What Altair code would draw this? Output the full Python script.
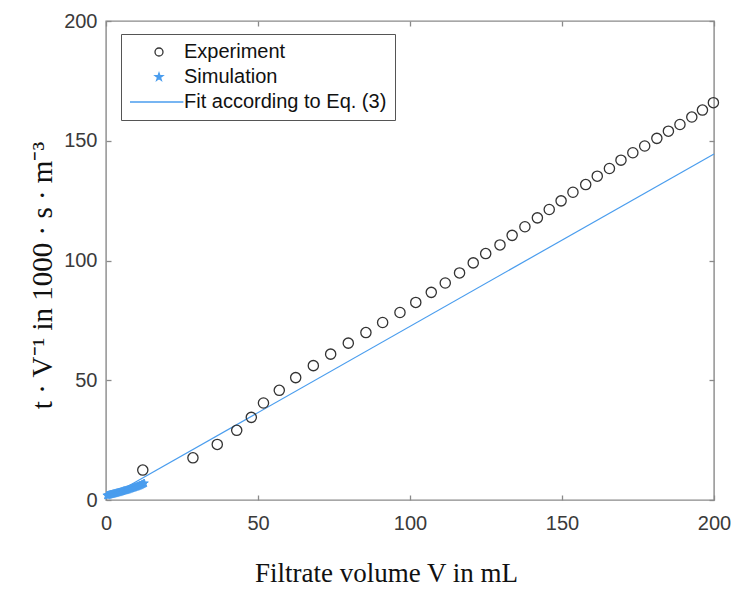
import altair as alt
import pandas as pd

# ---- data ----
exp_x = [12.1, 28.6, 36.6, 43.0, 47.8, 51.8, 57.0, 62.4, 68.2, 73.9, 79.7, 85.5, 91.0,
         96.7, 101.9, 107.0, 111.6, 116.3, 120.8, 124.9, 129.6, 133.6, 137.8, 141.9,
         145.8, 149.7, 153.6, 157.8, 161.6, 165.6, 169.4, 173.3, 177.2, 181.2, 185.0,
         188.8, 192.7, 196.2, 199.8]
exp_y = [12.5, 17.6, 23.2, 29.1, 34.5, 40.5, 45.8, 51.1, 56.1, 60.9, 65.5, 69.9, 74.1,
         78.3, 82.5, 86.7, 90.6, 94.8, 99.0, 102.9, 106.5, 110.5, 114.1, 117.8,
         121.3, 124.9, 128.5, 131.7, 135.2, 138.4, 141.9, 145.0, 147.8, 151.0, 154.0,
         156.8, 159.9, 162.8, 165.9]

sim_x = [0.3, 0.6, 0.9, 1.2, 1.5, 1.8, 2.1, 2.4, 2.7, 3.0, 3.3, 3.6, 3.9, 4.2, 4.5,
         4.8, 5.1, 5.4, 5.7, 6.0, 6.3, 6.6, 6.9, 7.2, 7.5, 7.8, 8.1, 8.4, 8.7, 9.0,
         9.3, 9.6, 9.9, 10.2, 10.5, 10.8, 11.1, 11.4, 11.7, 12.0, 12.3, 12.6]
sim_y = [1.9, 2.0, 2.1, 2.2, 2.3, 2.4, 2.5, 2.6, 2.7, 2.8, 2.9, 3.0, 3.1, 3.2, 3.3,
         3.4, 3.5, 3.6, 3.8, 3.9, 4.0, 4.1, 4.2, 4.3, 4.5, 4.6, 4.7, 4.8, 5.0, 5.1,
         5.2, 5.4, 5.5, 5.6, 5.8, 5.9, 6.1, 6.2, 6.4, 6.6, 6.8, 7.0]

fit_x = [0, 200]
fit_y = [0.5, 144.5]

series = ["Experiment", "Simulation", "Fit according to Eq. (3)"]
tick_values = [0, 50, 100, 150, 200]

exp_df = pd.DataFrame({"x": exp_x, "y": exp_y, "series": series[0]})
sim_df = pd.DataFrame({"x": sim_x, "y": sim_y, "series": series[1]})
fit_df = pd.DataFrame({"x": fit_x, "y": fit_y, "series": series[2]})

BLUE = "#4A9DEE"
GRAY = "#8a8a8a"
STAR = ("M0,-1L0.225,-0.31L0.951,-0.309L0.363,0.118L0.588,0.809L0,0.382"
        "L-0.588,0.809L-0.363,0.118L-0.951,-0.309L-0.225,-0.31Z")
LINE = "M-7.25,0H6.1"

shape_scale = alt.Scale(domain=series, range=["circle", STAR, LINE])
color_scale = alt.Scale(domain=series, range=["#333333", BLUE, BLUE])
fill_scale = alt.Scale(domain=series, range=["transparent", BLUE, BLUE])

xs = alt.Scale(domain=[0, 200], nice=False)
ys = alt.Scale(domain=[0, 200], nice=False)

leg = alt.Legend(title=None, orient="none", legendX=15, legendY=13)

main_x_axis = alt.Axis(orient="bottom", offset=-5, values=tick_values, tickSize=5,
                       domain=False, grid=False, labelPadding=13, labelFlush=False,
                       title="Filtrate volume V in mL", titleX=280, titleY=86,
                       titleBaseline="alphabetic")
main_y_axis = alt.Axis(orient="left", offset=-5, values=tick_values, tickSize=5,
                       domain=False, grid=False, labelPadding=9, labelFlush=False,
                       title="t \u00b7 V\u207b\u00b9 in 1000   \u00b7 s \u00b7 m\u207b\u00b3",
                       titleX=-60, titleY=254, titleAngle=-90, titleFontSize=29,
                       titleBaseline="alphabetic", titleAlign="center")
top_axis = alt.Axis(orient="top", offset=-5, values=tick_values, tickSize=5,
                    domain=False, grid=False, labels=False, title=None)
right_axis = alt.Axis(orient="right", offset=-5, values=tick_values, tickSize=5,
                      domain=False, grid=False, labels=False, title=None)

fit = alt.Chart(fit_df).mark_line(strokeWidth=1.2).encode(
    x=alt.X("x:Q", scale=xs, axis=main_x_axis),
    y=alt.Y("y:Q", scale=ys, axis=main_y_axis),
    color=alt.Color("series:N", scale=color_scale, legend=leg),
)

exp = alt.Chart(exp_df).mark_point(size=105, strokeWidth=1.3, opacity=1).encode(
    x=alt.X("x:Q", scale=xs, axis=top_axis),
    y=alt.Y("y:Q", scale=ys, axis=right_axis),
    color=alt.Color("series:N", scale=color_scale, legend=leg),
    shape=alt.Shape("series:N", scale=shape_scale, legend=leg),
    fill=alt.Fill("series:N", scale=fill_scale, legend=leg),
)

sim = alt.Chart(sim_df).mark_point(size=70, strokeWidth=1, opacity=1).encode(
    x=alt.X("x:Q", scale=xs, axis=None),
    y=alt.Y("y:Q", scale=ys, axis=None),
    color=alt.Color("series:N", scale=color_scale, legend=leg),
    shape=alt.Shape("series:N", scale=shape_scale, legend=leg),
    fill=alt.Fill("series:N", scale=fill_scale, legend=leg),
)

chart = alt.layer(fit, exp, sim).resolve_axis(
    x="independent", y="independent"
).properties(
    width=608, height=479,
    autosize=alt.AutoSizeParams(type="none"),
    padding={"left": 106, "top": 21, "right": 21, "bottom": 89},
).configure_view(
    stroke=GRAY, strokeWidth=1.4
).configure_axis(
    tickColor=GRAY, tickWidth=1.3,
    labelFont="Liberation Sans", labelFontSize=20, labelColor="#3a3a3a",
    titleFont="Liberation Serif", titleFontSize=27, titleFontWeight="normal",
    titleColor="#111111",
).configure_legend(
    labelFont="Liberation Sans", labelFontSize=20, labelColor="#111111",
    symbolSize=64, symbolStrokeWidth=1.3, strokeColor="#555555",
    fillColor="white", padding=8, rowPadding=5, labelOffset=15,
    symbolOffset=20, cornerRadius=0, labelLimit=400,
)

chart.save("out.html", embed_options={"renderer": "svg", "actions": False})
